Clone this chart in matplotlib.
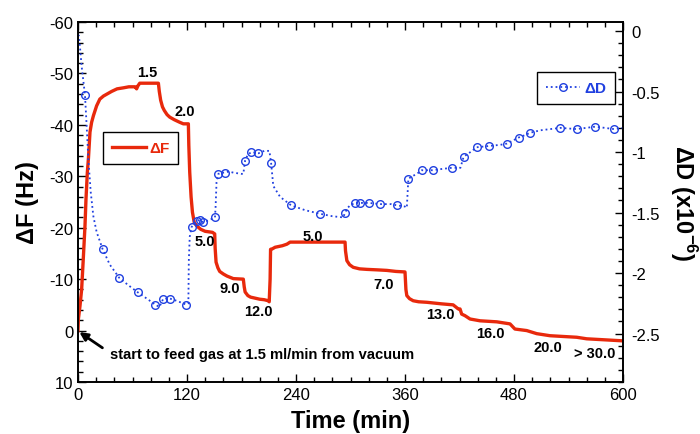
import matplotlib
matplotlib.use('Agg')
import matplotlib.pyplot as plt
import numpy as np
from matplotlib.ticker import MultipleLocator, FixedLocator, FuncFormatter

plt.rcParams['font.family'] = ['Liberation Sans', 'DejaVu Sans']
plt.rcParams['axes.unicode_minus'] = False
plt.rcParams['mathtext.fontset'] = 'custom'
plt.rcParams['mathtext.rm'] = 'Liberation Sans'
plt.rcParams['mathtext.bf'] = 'Liberation Sans:bold'

# frequency shift (Hz) vs time (min)
f_time = [0, 0.4, 2.2, 4, 5.8, 7.7, 8.8, 10.3, 11.5, 13.2, 15, 17, 20.5, 24, 28, 32, 37,
          43, 50, 56, 61, 63, 64.5, 66, 68, 75, 82, 88.5, 89.5, 91, 93, 95, 98, 101, 106,
          112, 116, 121.5, 122, 123, 124.5, 126, 128, 131, 135, 140, 148, 150.5, 151, 152,
          154, 156, 160, 164, 171, 182, 183, 184, 187, 190, 195, 200, 205, 209.5, 210.5,
          211.5, 212, 214, 217, 225, 230, 233.5, 260, 294, 294.5, 296, 299, 303, 310, 318,
          330, 340, 350, 360, 361, 362, 365, 369, 375, 384, 400, 413, 418.7, 420.6, 422.4,
          426, 431.6, 442.6, 461, 475.6, 481, 494, 505, 519.6, 549, 560, 600]
f_val = [0, -2.2, -4.8, -8, -13.9, -20.4, -25.6, -30.8, -33.5, -38.6, -40.5, -41.8, -43.7,
         -45, -45.6, -46, -46.5, -47, -47.2, -47.4, -47.4, -47.4, -47, -47.6, -48.1, -48.1,
         -48.1, -48.1, -46.5, -44.8, -43.5, -42.8, -42, -41.5, -41, -40.5, -40.2, -40.2,
         -36, -30.8, -26, -23, -21, -20.3, -19.7, -19.3, -19.1, -18.8, -16, -13.3, -12.2,
         -11.5, -11, -10.6, -10.1, -10, -8.5, -7.5, -6.8, -6.5, -6.3, -6.1, -6, -5.8, -5.6,
         -10, -15.8, -15.9, -16.2, -16.5, -16.8, -17.2, -17.2, -17.2, -15.5, -13.6, -12.8,
         -12.3, -12.0, -11.9, -11.8, -11.7, -11.5, -11.4, -8, -6.8, -6.2, -5.8, -5.6, -5.5,
         -5.2, -5.0, -4.2, -4.2, -3.2, -2.9, -2.25, -1.9, -1.7, -1.3, -0.3, 0.0, 0.6, 1.0,
         1.3, 1.6, 2.0]

# dissipation shift (x1e-6) vs time (min)
d_time = [0, 1.1, 4, 7.7, 9.5, 11.4, 14, 16.9, 20.5, 27, 35, 45.5, 55.4, 66, 75.6, 85, 89.6,
          94, 101, 109, 119, 121.5, 122, 123, 125, 127, 130.5, 134, 138, 145, 150.8, 151.5,
          152.5, 154.5, 158, 162, 166, 171, 180, 182, 184, 187, 191, 198.6, 205, 210.7,
          212.6, 215, 222.5, 234.6, 250, 266.5, 280, 292, 294, 297, 299.6, 305, 310.6, 320,
          332.6, 345, 351, 360, 362, 363.7, 368, 373, 378.5, 391, 400, 411.5, 421, 424.5,
          428, 432, 439, 452, 465, 472, 480, 485, 492, 498, 509, 520, 531, 549, 569.5, 580,
          590, 600]
d_val = [-0.03, -0.04, -0.29, -0.53, -0.78, -1.06, -1.33, -1.53, -1.66, -1.80, -1.93, -2.04,
         -2.10, -2.16, -2.21, -2.26, -2.28, -2.21, -2.21, -2.23, -2.26, -2.25, -1.9, -1.7,
         -1.62, -1.6, -1.57, -1.56, -1.58, -1.56, -1.54, -1.45, -1.25, -1.18, -1.17, -1.17,
         -1.16, -1.17, -1.18, -1.18, -1.07, -1.02, -1.0, -1.01, -0.99, -0.99, -1.09, -1.28,
         -1.37, -1.44, -1.48, -1.51, -1.53, -1.54, -1.50, -1.46, -1.44, -1.42, -1.42, -1.42,
         -1.43, -1.43, -1.44, -1.45, -1.46, -1.22, -1.2, -1.18, -1.15, -1.15, -1.14, -1.13,
         -1.13, -1.04, -1.02, -1.0, -0.96, -0.95, -0.94, -0.93, -0.9, -0.88, -0.86, -0.84,
         -0.82, -0.81, -0.80, -0.81, -0.79, -0.80, -0.81, -0.80]
d_marked = [7.7, 27, 45.5, 66, 85, 94, 101, 119, 125, 130.5, 134, 138, 150.8, 154.5, 162,
            184, 191, 198.6, 212.6, 234.6, 266.5, 294, 305, 310.6, 320, 332.6, 351, 363.7,
            378.5, 391, 411.5, 424.5, 439, 452, 472, 485, 498, 531, 549, 569.5, 590]

# flow-rate labels (ml/min)
flow_labels = ['1.5', '2.0', '5.0', '9.0', '12.0', '5.0', '7.0', '13.0', '16.0', '20.0', '> 30.0']
flow_t = [76, 118, 140, 167, 198.6, 259, 336, 398.6, 453.7, 517, 569]
flow_f = [-50.3, -42.7, -17.4, -8.2, -3.8, -18.3, -9.0, -3.2, 0.4, 3.1, 4.4]

red = '#e8290c'
blue = '#2040e0'

fig = plt.figure(figsize=(7, 4.35), dpi=100)
ax = fig.add_axes([78 / 700, 1 - 383 / 435, 545 / 700, 360 / 435])
ax2 = ax.twinx()

line_f, = ax.plot(f_time, f_val, color=red, lw=2.4)
mark_idx = list(np.nonzero(np.isin(d_time, d_marked))[0])
line_d, = ax2.plot(d_time, d_val, ls=':', lw=1.3, color=blue, marker='o', mfc='none',
                   ms=5.5, mew=1.0, markevery=mark_idx)

ax.set_xlim(0, 600)
ax.set_ylim(10, -60)
ax2.set_ylim(-2.9, 0.075)

ax.xaxis.set_major_locator(MultipleLocator(120))
ax.xaxis.set_minor_locator(MultipleLocator(20))
ax.yaxis.set_major_locator(MultipleLocator(10))
ax.yaxis.set_minor_locator(MultipleLocator(2))
ax2.yaxis.set_major_locator(FixedLocator([0, -0.5, -1, -1.5, -2, -2.5]))
ax2.yaxis.set_minor_locator(MultipleLocator(0.1))
ax2.yaxis.set_major_formatter(FuncFormatter(lambda v, p: '%g' % v))

ax.tick_params(which='both', direction='in', top=True, right=False, labelsize=12)
ax.tick_params(which='major', length=6, width=1)
ax.tick_params(which='minor', length=3.5, width=1)
ax2.tick_params(which='both', direction='in', labelsize=12, pad=6)
ax2.tick_params(which='major', length=6, width=1)
ax2.tick_params(which='minor', length=3.5, width=1)
for a in (ax, ax2):
    for s in a.spines.values():
        s.set_linewidth(1.2)

ax.set_xlabel('Time (min)', fontsize=17, fontweight='bold', labelpad=5)
ax.set_ylabel('ΔF (Hz)', fontsize=17, fontweight='bold', labelpad=7)
ax2.set_ylabel(r'ΔD (x10$^{\mathbf{-6}}$)', fontsize=17, fontweight='bold',
               rotation=270, va='bottom', labelpad=6)

for lab, t, f in zip(flow_labels, flow_t, flow_f):
    ax.text(t, f, lab, ha='center', va='center', fontsize=10.5, fontweight='bold')

ax.annotate('start to feed gas at 1.5 ml/min from vacuum', xy=(1.5, 0.3), xytext=(35, 4.6),
            ha='left', va='center', fontsize=10.6, fontweight='bold',
            arrowprops=dict(arrowstyle='-|>', color='black', lw=2, mutation_scale=12,
                            relpos=(0, 0.6), shrinkA=4, shrinkB=0))

leg1 = ax2.legend([line_f], ['ΔF'], loc='upper left', bbox_to_anchor=(0.046, 0.694),
                  fancybox=False, edgecolor='black', framealpha=1, labelcolor=red,
                  prop={'weight': 'bold', 'size': 11}, handlelength=2.2,
                  handletextpad=0.2, borderpad=0.6, borderaxespad=0)
leg1.get_frame().set_linewidth(1)
ax2.add_artist(leg1)
leg2 = ax2.legend([line_d], ['ΔD'], loc='upper left', bbox_to_anchor=(0.842, 0.861),
                  fancybox=False, edgecolor='black', framealpha=1, labelcolor=blue,
                  prop={'weight': 'bold', 'size': 11}, handlelength=2.2, numpoints=1,
                  handletextpad=0.3, borderpad=0.6, borderaxespad=0)
leg2.get_frame().set_linewidth(1)

fig.savefig('out.png', dpi=100)
